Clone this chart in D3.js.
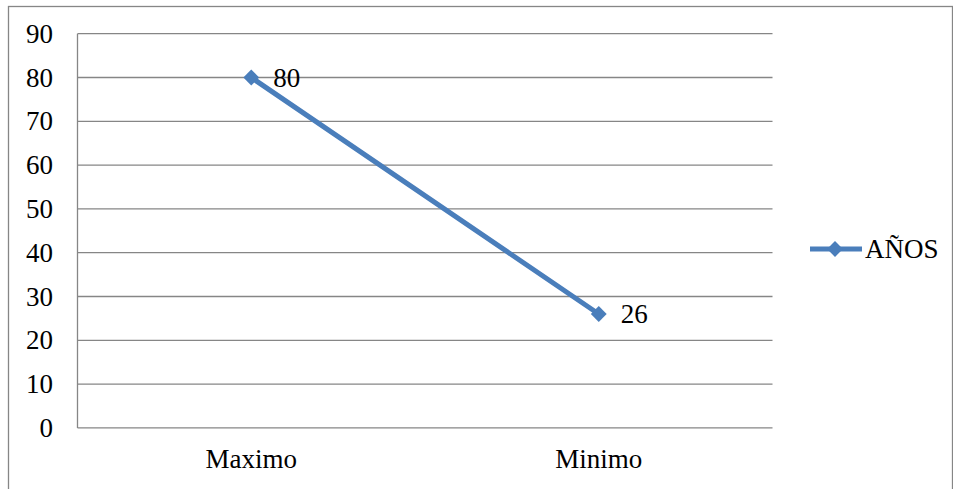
<!DOCTYPE html>
<html><head><meta charset="utf-8">
<script src="https://cdn.jsdelivr.net/npm/d3@7"></script>
</head><body style="margin:0">
<script>
const categories = ["Maximo", "Minimo"];
const values = [80, 26];
const seriesName = "AÑOS";
const yTicks = [0, 10, 20, 30, 40, 50, 60, 70, 80, 90];

(function () {
const W = 953, H = 489;
const blue = "#4a7ebb";
const grey = "#868686";
const svg = d3.select("body").append("svg").attr("width", W).attr("height", H)
  .style("display", "block");

function label(sel) {
  return sel.attr("font-size", 27).style("font-family", d => '"Liberation Serif"');
}

// outer chart border
svg.append("rect").attr("x", 8.5).attr("y", 6.5).attr("width", 944).attr("height", 500)
  .attr("fill", "none").attr("stroke", grey).attr("stroke-width", 1.3);

const pLeft = 77.5, pRight = 772.5, pTop = 33.7, pBottom = 427.9;
const x = d3.scaleBand().domain(categories).range([pLeft, pRight]);
const y = d3.scaleLinear().domain([0, 90]).range([pBottom, pTop]);

// gridlines
svg.selectAll("line.grid").data(yTicks).join("line").attr("class", "grid")
  .attr("x1", pLeft).attr("x2", pRight)
  .attr("y1", d => y(d)).attr("y2", d => y(d))
  .attr("stroke", grey).attr("stroke-width", 1.3);
// left axis line
svg.append("line").attr("x1", pLeft).attr("x2", pLeft).attr("y1", pTop).attr("y2", pBottom)
  .attr("stroke", grey).attr("stroke-width", 1.3);

// y axis labels
label(svg.selectAll("text.ytick").data(yTicks).join("text").attr("class", "ytick")
  .attr("x", 53).attr("y", d => y(d)).attr("dy", "0.34em")
  .attr("text-anchor", "end"))
  .text(d => d);

// x axis labels
label(svg.selectAll("text.xtick").data(categories).join("text").attr("class", "xtick")
  .attr("x", d => x(d) + x.bandwidth() / 2).attr("y", 468)
  .attr("text-anchor", "middle"))
  .text(d => d);

const pts = categories.map((c, i) => ({ c, v: values[i] }));
const cx = d => x(d.c) + x.bandwidth() / 2;

svg.append("path").datum(pts)
  .attr("d", d3.line().x(cx).y(d => y(d.v)))
  .attr("fill", "none").attr("stroke", blue).attr("stroke-width", 5).attr("stroke-linecap", "round");

const diamond = d3.symbol().type(d3.symbolDiamond2).size(160);
svg.selectAll("path.mk").data(pts).join("path").attr("class", "mk")
  .attr("d", diamond).attr("transform", d => `translate(${cx(d)},${y(d.v)})`)
  .attr("fill", blue);

label(svg.selectAll("text.val").data(pts).join("text").attr("class", "val")
  .attr("x", d => cx(d) + 22).attr("y", d => y(d.v)).attr("dy", "0.34em"))
  .text(d => d.v);

// legend
const ly = 249;
svg.append("line").attr("x1", 810).attr("x2", 862).attr("y1", ly).attr("y2", ly)
  .attr("stroke", blue).attr("stroke-width", 5);
svg.append("path").attr("d", diamond).attr("transform", `translate(835,${ly})`).attr("fill", blue);
label(svg.selectAll("text.leg").data([seriesName]).join("text").attr("class", "leg")
  .attr("x", 865).attr("y", ly).attr("dy", "0.34em"))
  .text(d => d);
})();
</script>
</body></html>
